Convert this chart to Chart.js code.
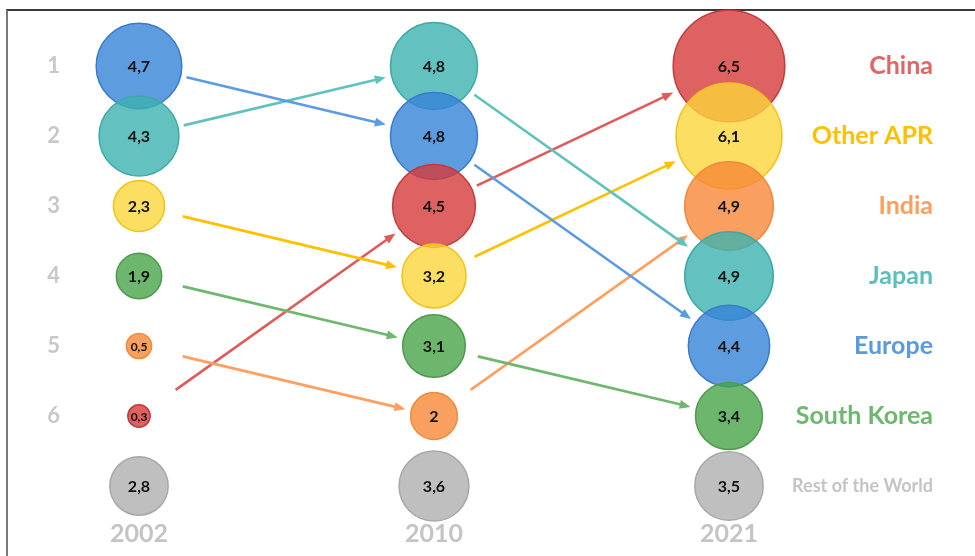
<!DOCTYPE html>
<html>
<head>
<meta charset="utf-8">
<script src="https://cdn.jsdelivr.net/npm/chart.js@4.4.1/dist/chart.umd.min.js"></script>
<style>
  html, body { margin: 0; padding: 0; background: #fff; }
  #frame { position: absolute; left: 6px; top: 9px; width: 969px; height: 547px;
           border-top: 2px solid #3a3a3a; border-left: 2px solid #7a7a7a; box-sizing: border-box; }
  #c { position: absolute; left: 0; top: 0; }
</style>
</head>
<body>
<div id="frame"></div>
<canvas id="c" width="975" height="556"></canvas>
<script>
// ---- data ----
const years = ['2002', '2010', '2021'];
const series = ['China', 'Other APR', 'India', 'Japan', 'Europe', 'South Korea', 'Rest of the World'];
const rankLabels = ['1', '2', '3', '4', '5', '6'];
const values2002 = [0.3, 2.3, 0.5, 4.3, 4.7, 1.9, 2.8];
const values2010 = [4.5, 3.2, 2.0, 4.8, 4.8, 3.1, 3.6];
const values2021 = [6.5, 6.1, 4.9, 4.9, 4.4, 3.4, 3.5];
const ranks2002 = [6, 3, 5, 2, 1, 4, 7];
const ranks2010 = [3, 4, 6, 1, 2, 5, 7];
const ranks2021 = [1, 2, 3, 4, 5, 6, 7];

// ---- styles ----
const fillColors = ['rgba(215,59,59,0.8)', 'rgba(251,214,59,0.8)', 'rgba(248,136,56,0.8)',
                    'rgba(60,177,175,0.8)', 'rgba(54,131,216,0.8)', 'rgba(73,164,73,0.8)', 'rgba(175,175,175,0.8)'];
const borderColors = ['#c23b3b', '#f2c21a', '#f08a3c', '#3fa9a6', '#3a7bcc', '#4f9a4f', '#a8a8a8'];
const labelColors = ['#e06666', '#ffc000', '#f9a05f', '#5bbfbc', '#5a9ae0', '#6db86d', '#c4c4c4'];
const arrowColors = ['#e05a5a', '#ffc000', '#ffa060', '#5fc2be', '#5b9be0', '#6db86d'];
const radiusOf = v => 9 + 7.2 * v;
const fmt = v => String(v).replace('.', ',');

const allValues = [values2002, values2010, values2021];
const allRanks = [ranks2002, ranks2010, ranks2021];

const seriesAtRank = r => ranks2021.indexOf(r);
const noPad = s => { s.paddingTop = 0; s.paddingBottom = 0; s.paddingLeft = 0; s.paddingRight = 0; };

const datasets = years.map((y, k) => {
  const pts = series.map((s, i) => ({ x: k, y: allRanks[k][i], r: radiusOf(allValues[k][i]), v: allValues[k][i], s: i }))
    .sort((a, b) => a.y - b.y);
  return {
    label: y,
    data: pts,
    backgroundColor: ctx => (ctx.raw ? fillColors[ctx.raw.s] : '#ccc'),
    borderColor: ctx => (ctx.raw ? borderColors[ctx.raw.s] : '#aaa'),
    borderWidth: 1.5,
    clip: false
  };
});

const arrowPlugin = {
  id: 'arrows',
  beforeDatasetsDraw(chart) {
    const xs = chart.scales.x, ys = chart.scales.y, ctx = chart.ctx;
    ctx.save();
    for (let k = 0; k < years.length - 1; k++) {
      for (let i = 0; i < series.length - 1; i++) {
        const ax = xs.getPixelForValue(k), ay = ys.getPixelForValue(allRanks[k][i]);
        const bx = xs.getPixelForValue(k + 1), by = ys.getPixelForValue(allRanks[k + 1][i]);
        const dx = bx - ax, dy = by - ay, len = Math.hypot(dx, dy);
        const ux = dx / len, uy = dy / len;
        const ds = Math.max(radiusOf(allValues[k][i]) + 6, 45);
        const de = radiusOf(allValues[k + 1][i]) + 6;
        const sx = ax + ux * ds, sy = ay + uy * ds;
        const ex = bx - ux * de, ey = by - uy * de;
        const head = 11, hw = 4.5;
        ctx.strokeStyle = arrowColors[i];
        ctx.fillStyle = arrowColors[i];
        ctx.lineWidth = 2.6;
        ctx.beginPath();
        ctx.moveTo(sx, sy);
        ctx.lineTo(ex - ux * (head - 2), ey - uy * (head - 2));
        ctx.stroke();
        ctx.beginPath();
        ctx.moveTo(ex, ey);
        ctx.lineTo(ex - ux * head - uy * hw, ey - uy * head + ux * hw);
        ctx.lineTo(ex - ux * head + uy * hw, ey - uy * head - ux * hw);
        ctx.closePath();
        ctx.fill();
      }
    }
    ctx.restore();
  }
};

const valueLabelPlugin = {
  id: 'valueLabels',
  afterDatasetsDraw(chart) {
    const ctx = chart.ctx;
    ctx.save();
    ctx.textAlign = 'center';
    ctx.textBaseline = 'middle';
    ctx.fillStyle = '#111';
    chart.data.datasets.forEach((ds, di) => {
      const meta = chart.getDatasetMeta(di);
      meta.data.forEach((el, j) => {
        const p = ds.data[j];
        const small = p.r < 20;
        ctx.font = 'bold ' + (small ? 12 : 16) + 'px Lato';
        ctx.fillText(fmt(p.v), el.x, el.y + 1);
      });
    });
    ctx.restore();
  }
};

new Chart(document.getElementById('c'), {
  type: 'bubble',
  data: { datasets },
  options: {
    responsive: false,
    devicePixelRatio: 1,
    animation: false,
    layout: { autoPadding: false, padding: { top: 10, right: 42, left: 0, bottom: 0 } },
    plugins: { legend: { display: false }, tooltip: { enabled: false } },
    scales: {
      x: {
        type: 'linear', position: 'bottom', min: -0.2, max: 2.2068,
        grid: { display: false, drawTicks: false }, border: { display: false },
        afterBuildTicks: s => { s.ticks = years.map((y, i) => ({ value: i })); },
        afterFit: s => { s.height = 46; noPad(s); },
        ticks: { callback: v => years[v], color: '#c4c4c4', font: { family: 'Lato', size: 25, weight: 'bold' }, padding: 9, maxRotation: 0, autoSkip: false }
      },
      y: {
        type: 'linear', position: 'left', reverse: true, min: 0.2, max: 7.343,
        grid: { display: false, drawTicks: false }, border: { display: false },
        afterBuildTicks: s => { s.ticks = rankLabels.map((r, i) => ({ value: i + 1 })); },
        afterFit: s => { s.width = 80; noPad(s); },
        ticks: { callback: v => rankLabels[v - 1], color: '#c8c8c8', font: { family: 'Lato', size: 22, weight: 'bold' }, padding: 20, autoSkip: false }
      },
      yR: {
        type: 'linear', position: 'right', reverse: true, min: 0.2, max: 7.343,
        grid: { display: false, drawTicks: false }, border: { display: false },
        afterBuildTicks: s => { s.ticks = series.map((n, i) => ({ value: ranks2021[i] })); },
        afterFit: s => { s.width = 143; noPad(s); },
        ticks: {
          callback: v => series[seriesAtRank(v)],
          crossAlign: 'far', autoSkip: false,
          color: c => (c.tick ? labelColors[seriesAtRank(c.tick.value)] : '#c4c4c4'),
          font: c => (c.tick && series[seriesAtRank(c.tick.value)] === 'Rest of the World')
            ? { family: 'Lato', size: 18, weight: 'bold' }
            : { family: 'Lato', size: 25, weight: 'bold' }
        }
      }
    }
  },
  plugins: [arrowPlugin, valueLabelPlugin]
});
</script>
</body>
</html>
